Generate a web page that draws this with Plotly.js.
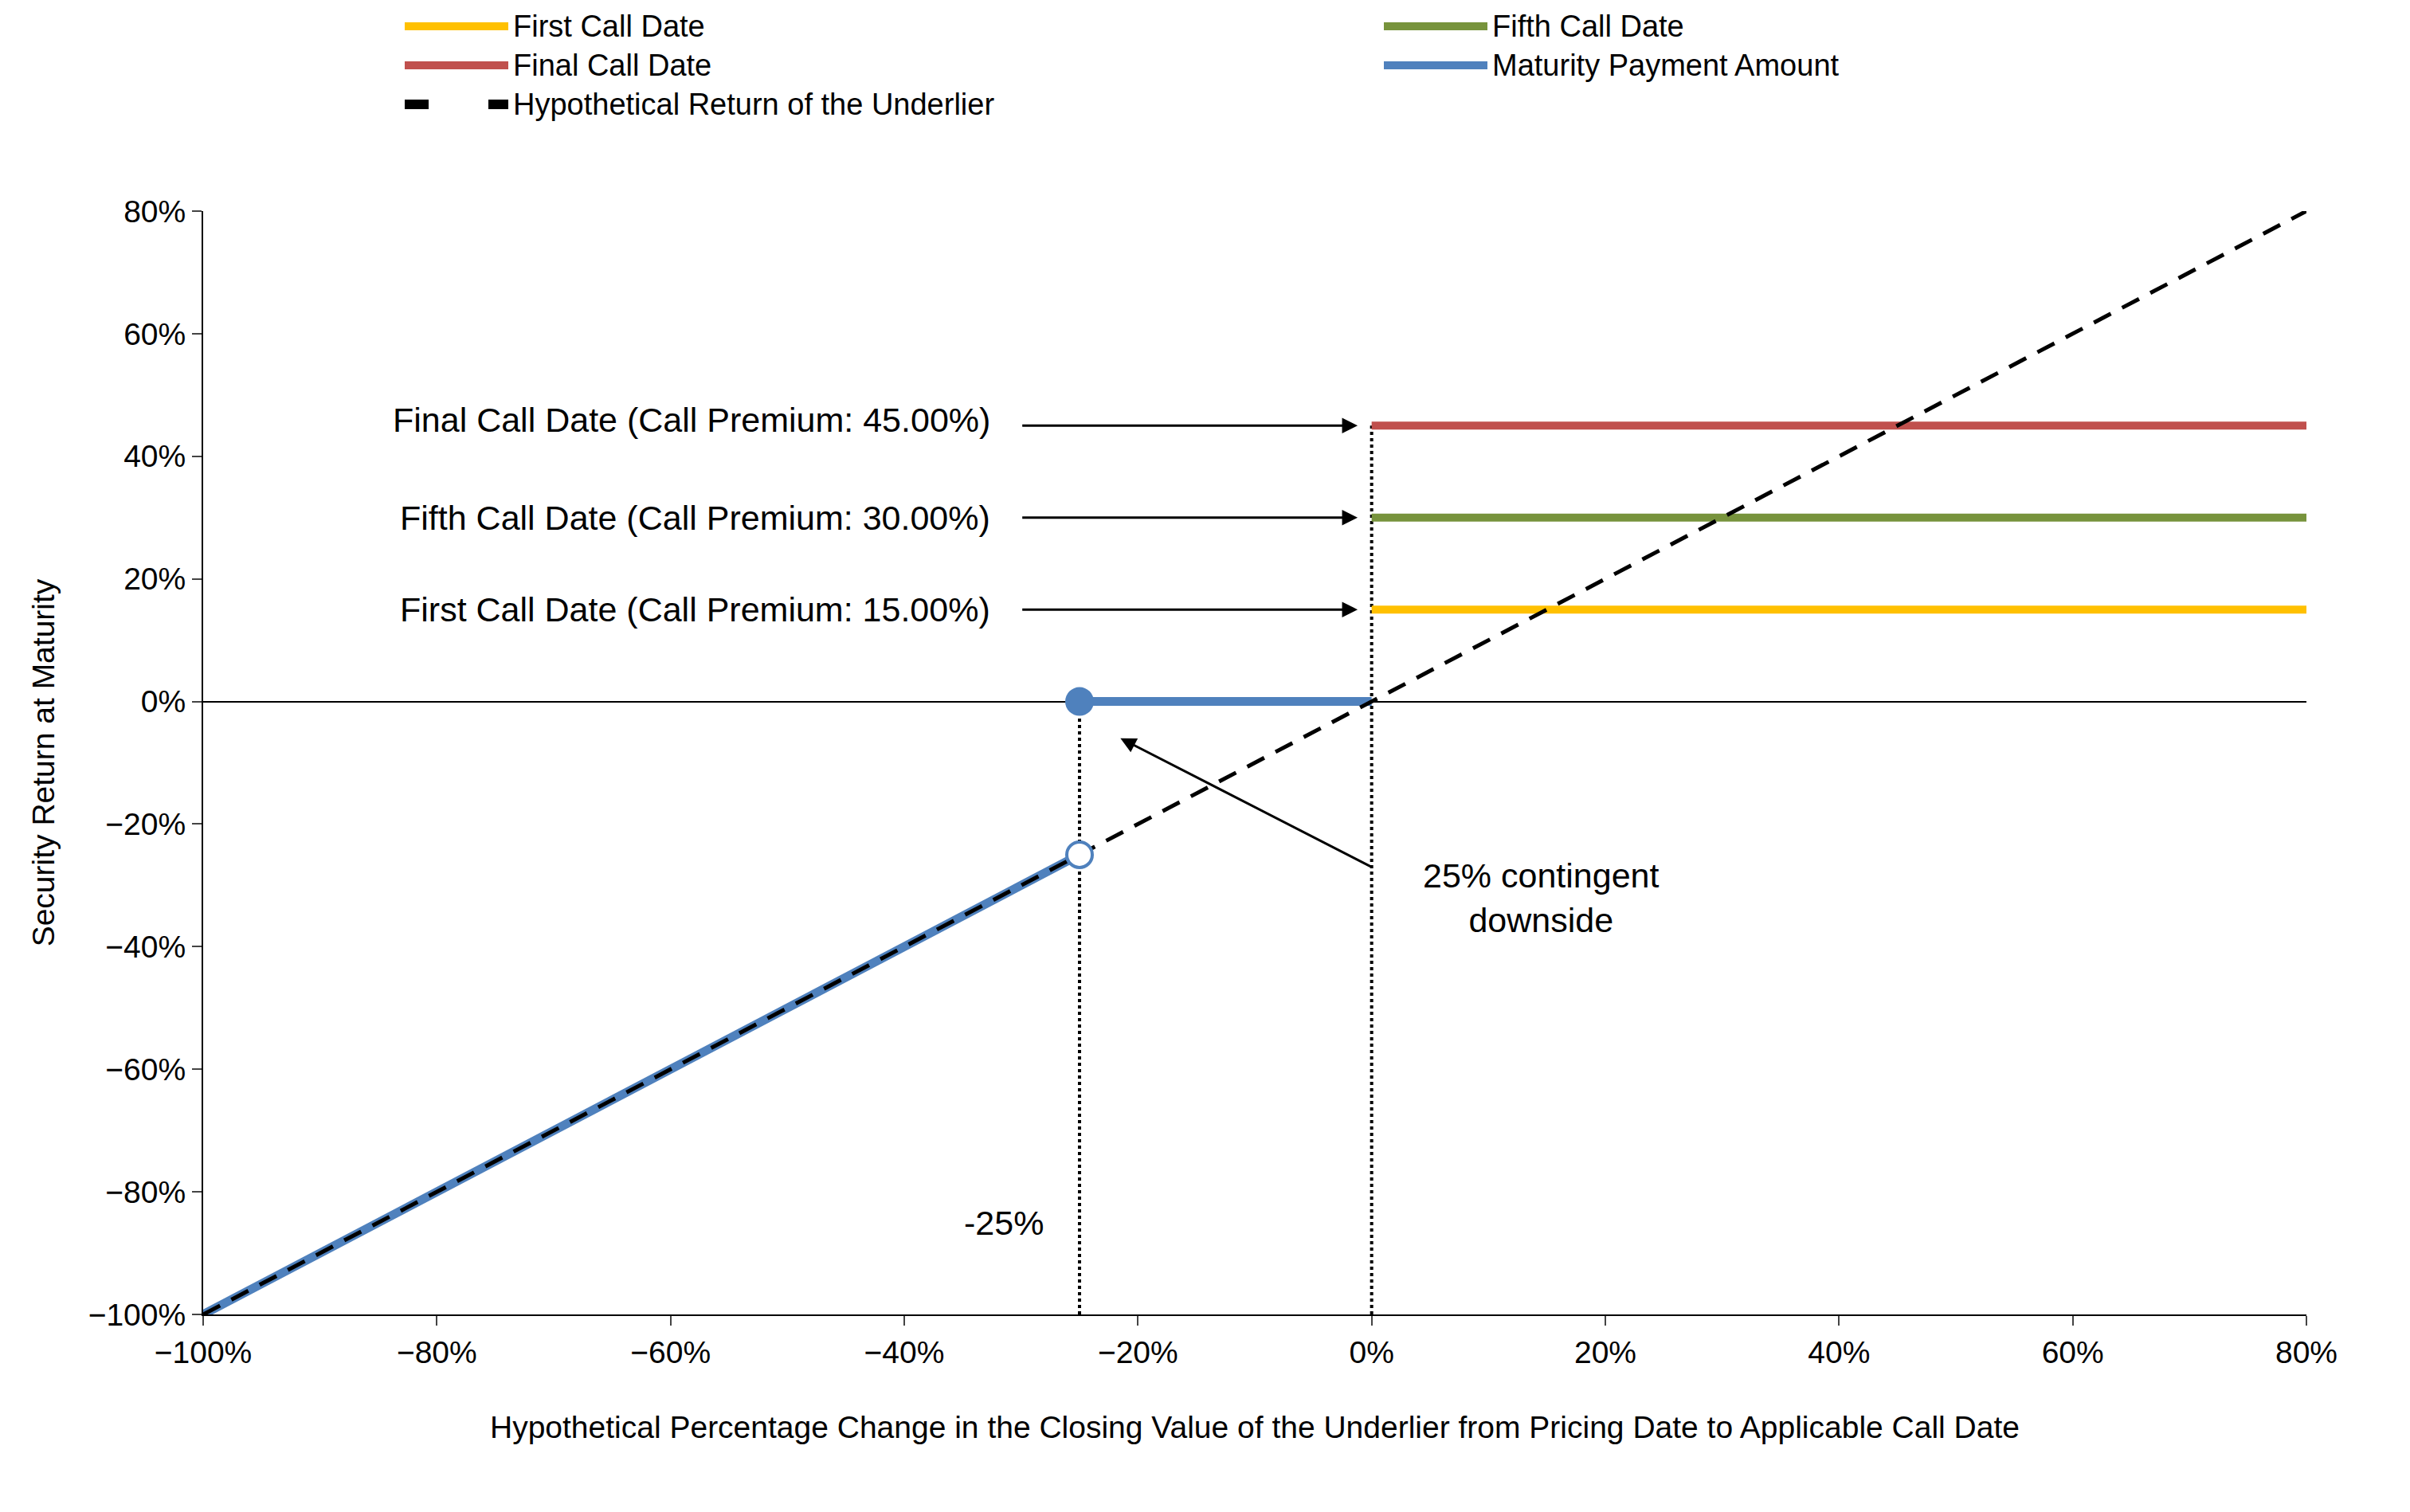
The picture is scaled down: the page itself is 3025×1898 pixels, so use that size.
<!DOCTYPE html>
<html>
<head>
<meta charset="utf-8">
<script src="https://cdn.plot.ly/plotly-3.0.1.min.js"></script>
<style>html,body{margin:0;padding:0;background:#fff}</style>
</head>
<body>
<div id="plot1" style="width:3025px;height:1898px"></div>
<script>
// underlier range and payoff breakpoints
var underX = [-1, 0.8];
var underY = [-1, 0.8];
var downX = [-1, -0.25];
var downY = [-1, -0.25];
var flatX = [-0.25, 0];
var flatY = [0, 0];
var callX = [0, 0.8];
var callNames = ['First Call Date', 'Fifth Call Date', 'Final Call Date'];
var callPremiums = [0.15, 0.30, 0.45];
var callColors = ['#FFC000', '#77933C', '#C0504D'];
var barrier = -0.25;
var xTicks = [-1, -0.8, -0.6, -0.4, -0.2, 0, 0.2, 0.4, 0.6, 0.8];

var font = 'Liberation Sans, Arial, sans-serif';
var M = {l: 255, r: 130, t: 265, b: 248};
var PW = 3025 - M.l - M.r, PH = 1898 - M.t - M.b;
function px(x) { return (x - M.l) / PW; }
function py(y) { return 1 - (y - M.t) / PH; }

var data = [];

// reference dotted verticals
data.push({x: [barrier, barrier], y: [-1, 0], mode: 'lines', showlegend: false,
	line: {color: '#000', width: 4, dash: 'dot'}});
data.push({x: [0, 0], y: [-1, callPremiums[2]], mode: 'lines', showlegend: false,
	line: {color: '#000', width: 4, dash: 'dot'}});

for (var i = 0; i < callNames.length; i++) {
	data.push({x: callX, y: [callPremiums[i], callPremiums[i]], mode: 'lines', showlegend: false,
		line: {color: callColors[i], width: 10}});
}

data.push({x: downX, y: downY, mode: 'lines', showlegend: false,
	line: {color: '#4F81BD', width: 11}});
data.push({x: flatX, y: flatY, mode: 'lines', showlegend: false,
	line: {color: '#4F81BD', width: 11}});
data.push({x: underX, y: underY, mode: 'lines', showlegend: false,
	line: {color: '#000', width: 5, dash: '24px,16px'}});
data.push({x: [flatX[0]], y: [flatY[0]], mode: 'markers', showlegend: false,
	marker: {color: '#4F81BD', size: 36}});
data.push({x: [downX[1]], y: [downY[1]], mode: 'markers', showlegend: false,
	marker: {color: '#fff', size: 32, line: {color: '#4F81BD', width: 4}}});

var ann = [];
var labels = ['First Call Date (Call Premium: 15.00%)', 'Fifth Call Date (Call Premium: 30.00%)', 'Final Call Date (Call Premium: 45.00%)'];
for (var j = 0; j < labels.length; j++) {
	var yy = callPremiums[j] + (j == 2 ? 0.01 : 0);
	ann.push({x: -0.325, y: yy, xref: 'x', yref: 'y', text: labels[j], showarrow: false,
		xanchor: 'right', font: {family: font, size: 43, color: '#000'}});
	ann.push({x: -0.012, y: callPremiums[j], ax: -0.30, ay: callPremiums[j], xref: 'x', yref: 'y',
		axref: 'x', ayref: 'y', text: '', showarrow: true, arrowhead: 2, arrowsize: 1.3, arrowwidth: 3, arrowcolor: '#000'});
}
ann.push({x: -0.215, y: -0.06, ax: 0.0, ay: -0.27, xref: 'x', yref: 'y', axref: 'x', ayref: 'y',
	text: '', showarrow: true, arrowhead: 2, arrowsize: 1.3, arrowwidth: 3, arrowcolor: '#000'});
ann.push({x: 0.145, y: -0.32, xref: 'x', yref: 'y', text: '25% contingent<br>downside', showarrow: false,
	font: {family: font, size: 43, color: '#000'}});
ann.push({x: -0.315, y: -0.85, xref: 'x', yref: 'y', text: '-25%', showarrow: false,
	font: {family: font, size: 43, color: '#000'}});

// manual legend in two columns
var legItems = [
	['First Call Date', '#FFC000', 0, 0, 'solid'],
	['Fifth Call Date', '#77933C', 1, 0, 'solid'],
	['Final Call Date', '#C0504D', 0, 1, 'solid'],
	['Maturity Payment Amount', '#4F81BD', 1, 1, 'solid'],
	['Hypothetical Return of the Underlier', '#000', 0, 2, 'dash']
];
var shapes = [];
for (var k = 0; k < legItems.length; k++) {
	var it = legItems[k];
	var x0 = it[2] == 0 ? 508 : 1737;
	var yp = 33 + it[3] * 49;
	if (it[4] == 'solid') {
		shapes.push({type: 'line', xref: 'paper', yref: 'paper', x0: px(x0), x1: px(x0 + 130),
			y0: py(yp), y1: py(yp), line: {color: it[1], width: 10}});
	} else {
		shapes.push({type: 'line', xref: 'paper', yref: 'paper', x0: px(x0), x1: px(x0 + 30),
			y0: py(yp), y1: py(yp), line: {color: '#000', width: 12}});
		shapes.push({type: 'line', xref: 'paper', yref: 'paper', x0: px(x0 + 105), x1: px(x0 + 130),
			y0: py(yp), y1: py(yp), line: {color: '#000', width: 12}});
	}
	ann.push({xref: 'paper', yref: 'paper', x: px(x0 + 134), y: py(yp), xanchor: 'left', yanchor: 'middle',
		text: it[0], showarrow: false, font: {family: font, size: 38, color: '#000'}});
}

var layout = {
	width: 3025,
	height: 1898,
	showlegend: false,
	paper_bgcolor: '#fff',
	plot_bgcolor: '#fff',
	margin: M,
	font: {family: font, size: 39, color: '#000'},
	xaxis: {
		range: [-1, 0.8], tickvals: xTicks, tickformat: '.0%', showgrid: false, zeroline: false,
		showline: true, linecolor: '#000', linewidth: 2, ticks: 'outside', ticklen: 12, tickwidth: 2,
		title: {text: 'Hypothetical Percentage Change in the Closing Value of the Underlier from Pricing Date to Applicable Call Date',
			font: {size: 39}, standoff: 60}
	},
	yaxis: {
		range: [-1, 0.8], dtick: 0.2, tickformat: '.0%', showgrid: false, zeroline: true,
		zerolinecolor: '#000', zerolinewidth: 2,
		showline: true, linecolor: '#000', linewidth: 2, ticks: 'outside', ticklen: 12, tickwidth: 2,
		title: {text: 'Security Return at Maturity', font: {size: 39}, standoff: 30}
	},
	annotations: ann,
	shapes: shapes
};

Plotly.newPlot('plot1', data, layout, {displayModeBar: false});
</script>
</body>
</html>
